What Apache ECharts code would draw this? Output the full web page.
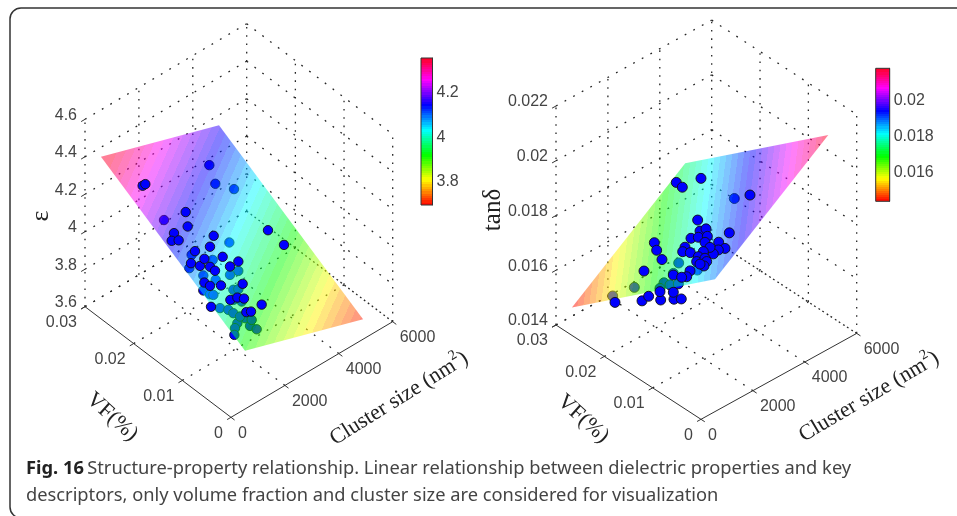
<!DOCTYPE html>
<html><head><meta charset="utf-8"><style>html,body{margin:0;padding:0;background:#fff}#c{width:957px;height:516px}</style></head>
<body><div id="c"></div>
<script src="https://cdn.jsdelivr.net/npm/echarts@6/dist/echarts.min.js"></script>
<script>
// ---------- data ----------
var clusterTicks = [0, 2000, 4000, 6000];
var vfTicks = [0, 0.01, 0.02, 0.03];
var epsTicks = [3.6, 3.8, 4, 4.2, 4.4, 4.6];
var tanTicks = [0.014, 0.016, 0.018, 0.02, 0.022];
var epsBarTicks = [3.8, 4, 4.2];
var tanBarTicks = [0.016, 0.018, 0.02];
var epsRange = [3.697, 4.353];
var tanRange = [0.01438, 0.02183];

// surface corners, order: low-cluster/low-VF, high-cluster/low-VF, high-cluster/high-VF, low-cluster/high-VF
var epsSurfaceCluster = [520, 4900, 4900, 520];
var epsSurfaceVF = [0, 0, 0.0296, 0.0296];
var epsSurfaceZ = [3.911, 3.707, 4.160, 4.364];
var tanSurfaceCluster = [540, 4905, 4905, 540];
var tanSurfaceVF = [0, 0, 0.0296, 0.0296];
var tanSurfaceZ = [0.01883, 0.02182, 0.01739, 0.0144];

var epsCluster = [1784,1516,940,692,916,2106,1739,3917,4074,1176,776,993,1288,1280,1342,1901,1906,2279,1899,1191,744,843,391,1150,1420,1603,2012,1361,1521,1059,1180,
  3768,3525,3980,1102,2609,1160,782,1695,2236,1886,1046,1328,701,823,1645,1815,1415,811,1030,1108,1002,815,641,1354,1332,1462,1238,1522,911,1634];
var epsVF = [.01919,.01730,.01692,.01602,.01583,.01522,.01395,.01409,.01167,.01391,.01252,.01187,.01261,.01140,.01072,.01224,.01076,.01111,.00812,.00865,.00960,.00898,.00627,.00650,.00656,.00621,.00484,.00439,.00431,.02402,.02414,
  .02532,.02274,.02142,.01987,.01479,.01451,.01289,.01315,.01088,.01065,.01148,.01050,.00957,.00887,.00863,.00854,.00735,.00675,.00625,.00566,.00425,.00369,.00286,.00462,.00347,.00282,.00500,.00418,.00867,.00686];
var epsValue = [4.166,4.149,4.170,4.168,4.155,4.090,4.088,3.988,3.944,4.113,4.110,4.090,4.088,4.070,4.057,4.054,4.031,4.019,3.991,4.032,4.067,4.053,4.033,4.001,3.989,3.975,3.935,3.959,3.950,4.273,4.269,
  4.127,4.099,4.058,4.168,4.020,4.083,4.076,4.037,3.977,3.990,4.042,4.014,4.029,4.012,3.971,3.961,3.962,3.981,3.963,3.950,3.933,3.934,3.929,3.923,3.906,3.890,3.934,3.908,4.005,3.944];

var tanCluster = [3893,3672,3862,2919,2395,1706,1984,2014,1786,1770,1742,1544,1890,1599,1227,949,1506,1367,1277,1447,1187,1175,1067,1329,1221,1078,911,971,840,704,804,624,444,598,456,96,189,9,33,193,178,223,183,
  3683,1216,1059,1774,1174,1048,1025,999,1442,1391];
var tanVF = [.02601,.02358,.02074,.00554,.01355,.00330,.01086,.00978,.01166,.01005,.00804,.00746,.01980,.01776,.01466,.01689,.01140,.01113,.00907,.00411,.00141,.00272,.00318,.00527,.00607,.00634,.00579,.00439,.00334,.00316,.00452,.00562,.00535,.00894,.00645,.00900,.01322,.01088,.01797,.00938,.00668,.00679,.00506,
  .01288,.02032,.02396,.01414,.01396,.01204,.01019,.01385,.01346,.00823];
var tanValue = [.01763,.01785,.01840,.02003,.01847,.01954,.01859,.01878,.01834,.01857,.01885,.01880,.01719,.01730,.01751,.01698,.01819,.01813,.01838,.01924,.01946,.01926,.01912,.01898,.01879,.01865,.01862,.01887,.01894,.01887,.01873,.01845,.01836,.01793,.01821,.01758,.01671,.01724,.01619,.01718,.01778,.01749,.01772,
  .01866,.01585,.01520,.01716,.01677,.01698,.01724,.01667,.01703,.01778];

// ---------- helpers ----------
function hsv(t, a) {
  var h = (t % 1) * 6, i = Math.floor(h), f = h - i, q = 1 - f, v = [[1,f,0],[q,1,0],[0,1,f],[0,q,1],[f,0,1],[1,0,q]][i % 6];
  return 'rgba(' + Math.round(v[0]*255) + ',' + Math.round(v[1]*255) + ',' + Math.round(v[2]*255) + ',' + a + ')';
}
function steppedStops(n, a) {
  var s = [];
  for (var i = 0; i < n; i++) {
    var col = hsv((i + 0.5) / n * 0.98, a);
    s.push({offset: i / n, color: col}, {offset: (i + 1) / n, color: col});
  }
  return s;
}
function panelSeries(P) {
  function proj(c, v, z) {
    return [P.ox + c / 6000 * P.cx + v / 0.03 * P.vx,
            P.oy + c / 6000 * P.cy + v / 0.03 * P.vy - (z - P.zMin) / (P.zMax - P.zMin) * P.zh];
  }
  var zLo = P.zMin, zHi = P.zMax, cMax = 6000, vMax = 0.03, segs = [];
  P.clusterTicks.forEach(function (c) {
    if (c > 0 && c < cMax) segs.push(proj(c, 0, zLo).concat(proj(c, vMax, zLo)));
    if (c > 0 && c < cMax) segs.push(proj(c, vMax, zLo).concat(proj(c, vMax, zHi)));
  });
  P.vfTicks.forEach(function (v) {
    if (v > 0 && v < vMax) segs.push(proj(0, v, zLo).concat(proj(cMax, v, zLo)));
    if (v > 0 && v < vMax) segs.push(proj(cMax, v, zLo).concat(proj(cMax, v, zHi)));
  });
  P.zTicks.forEach(function (z) {
    segs.push(proj(0, vMax, z).concat(proj(cMax, vMax, z)));
    segs.push(proj(cMax, vMax, z).concat(proj(cMax, 0, z)));
  });
  // box edges on the floor and the three rear verticals
  segs.push(proj(cMax, 0, zLo).concat(proj(cMax, vMax, zLo)));
  segs.push(proj(0, vMax, zLo).concat(proj(cMax, vMax, zLo)));
  segs.push(proj(0, vMax, zLo).concat(proj(0, vMax, zHi)));
  segs.push(proj(cMax, vMax, zLo).concat(proj(cMax, vMax, zHi)));
  segs.push(proj(cMax, 0, zLo).concat(proj(cMax, 0, zHi)));

  // axis lines + ticks
  var solid = [proj(0, vMax, zLo).concat(proj(0, 0, zLo)), proj(0, 0, zLo).concat(proj(cMax, 0, zLo))];
  var un = function (a, b) { var dx = b[0]-a[0], dy = b[1]-a[1], l = Math.hypot(dx, dy); return [dx/l, dy/l]; };
  var dc = un(proj(0,0,zLo), proj(cMax,0,zLo)), dv = un(proj(0,0,zLo), proj(0,vMax,zLo));
  P.vfTicks.forEach(function (v) { var p = proj(0, v, zLo); solid.push([p[0], p[1], p[0]-dc[0]*4.5, p[1]-dc[1]*4.5]); });
  P.clusterTicks.forEach(function (c) { var p = proj(c, 0, zLo); solid.push([p[0], p[1], p[0]-dv[0]*4.5, p[1]-dv[1]*4.5]); });
  P.zTicks.forEach(function (z) { var p = proj(0, vMax, z); solid.push([p[0], p[1], p[0]-dc[0]*4.5, p[1]-dc[1]*4.5]); });

  // labels
  var tickFont = '16px "Liberation Sans"', labs = [];
  function lab(txt, p, ox, oy, al) { labs.push({t: txt, x: p[0]+ox, y: p[1]+oy, al: al, font: tickFont}); }
  P.zTicks.forEach(function (z) { lab(String(z), proj(0, vMax, z), -8, -4, 'right'); });
  P.vfTicks.forEach(function (v) { lab(String(v), proj(0, v, zLo), -8, 16, 'right'); });
  P.clusterTicks.forEach(function (c) { lab(String(c), proj(c, 0, zLo), 7, 16, 'left'); });

  // surface gradient: z is affine in the projected plane
  var S = P.surface, c = S.cluster, v = S.vf, zz = S.z;
  var pts = [0,1,2,3].map(function (i) { return proj(c[i], v[i], zz[i]); });
  var e1 = [pts[1][0]-pts[0][0], pts[1][1]-pts[0][1]], e2 = [pts[3][0]-pts[0][0], pts[3][1]-pts[0][1]];
  var d1 = zz[1]-zz[0], d2 = zz[3]-zz[0], det = e1[0]*e2[1]-e1[1]*e2[0];
  var g = [(d1*e2[1]-d2*e1[1])/det, (e1[0]*d2-e2[0]*d1)/det], g2 = g[0]*g[0]+g[1]*g[1];
  function along(val) { var k = (val-zz[0])/g2; return [pts[0][0]+g[0]*k, pts[0][1]+g[1]*k]; }
  var g0 = along(P.range[0]), g1 = along(P.range[1]);
  var fill = new echarts.graphic.LinearGradient(g0[0], g0[1], g1[0], g1[1], steppedStops(40, 0.5), true);

  // plane value for ordering points above/below the surface
  function plane(cc, vv) {
    var fc = (cc-c[0])/(c[1]-c[0]), fv = vv/v[2];
    return zz[0] + fc*(zz[1]-zz[0]) + fv*(zz[3]-zz[0]);
  }
  var under = [], over = [];
  P.pc.forEach(function (cc, i) {
    (P.pz[i] < plane(cc, P.pv[i]) ? under : over).push(proj(cc, P.pv[i], P.pz[i]));
  });
  var single = function (fn, z) {
    return {type: 'custom', xAxisIndex: 0, yAxisIndex: 0, silent: true, z: z, animation: false, clip: false,
      data: [[0, 0]], renderItem: fn};
  };
  var toPx = function (api, p) { return api.coord(p); };
  var scat = function (d, z) {
    return {type: 'scatter', xAxisIndex: 0, yAxisIndex: 0, data: d, z: z, silent: true, animation: false,
      symbol: 'circle', symbolSize: P.dot, clip: false,
      itemStyle: {color: '#0000ff', opacity: 1, borderColor: '#111', borderWidth: 0.9}};
  };
  return [
    single(function (p, api) {
      return {type: 'group', children: segs.map(function (s) {
        var a = toPx(api, [s[0], s[1]]), b = toPx(api, [s[2], s[3]]);
        var vertical = Math.abs(a[0]-b[0]) < 0.5;
        return {type: 'line', shape: {x1: a[0], y1: a[1], x2: b[0], y2: b[1]},
          style: {stroke: '#262626', lineWidth: 1.3, lineDash: vertical ? [1.6, 6.7] : [1.8, 8]}};
      })};
    }, 1),
    scat(under, 2),
    single(function (p, api) {
      return {type: 'polygon', shape: {points: pts.map(function (q) { return toPx(api, q); })}, style: {fill: fill}};
    }, 3),
    scat(over, 4),
    single(function (p, api) {
      var kids = solid.map(function (s) {
        var a = toPx(api, [s[0], s[1]]), b = toPx(api, [s[2], s[3]]);
        return {type: 'line', shape: {x1: a[0], y1: a[1], x2: b[0], y2: b[1]}, style: {stroke: '#333', lineWidth: 1}};
      });
      labs.forEach(function (l) {
        var q = toPx(api, [l.x, l.y]);
        kids.push({type: 'text', x: q[0], y: q[1], style: {text: l.t, font: l.font, fill: '#444', align: l.al, verticalAlign: 'middle'}});
      });
      P.titles.forEach(function (tt) {
        var q = toPx(api, [tt.x, tt.y]);
        kids.push({type: 'text', x: q[0], y: q[1], rotation: tt.rot * Math.PI / 180,
          style: {text: tt.text, rich: TITLE_RICH, font: tt.font || '22px "Liberation Serif"', fill: '#222', align: 'center', verticalAlign: 'middle'}});
      });
      return {type: 'group', children: kids};
    }, 5)
  ];
}
var TITLE_RICH = {
  a: {font: '22px "Liberation Serif"', fill: '#222', lineHeight: 26, verticalAlign: 'bottom'},
  s: {font: '14px "Liberation Serif"', fill: '#222', lineHeight: 26, verticalAlign: 'top', padding: [0, 0, 8, 0]}
};
var clusterTitle = '{a|Cluster size (nm}{s|2}{a|)}';

var leftPanel = {
  ox: 231, oy: 417.3, cx: 161.7, cy: -95.6, vx: -146, vy: -110.6, zh: 187.4, zMin: 3.6, zMax: 4.6, dot: 9.4,
  clusterTicks: clusterTicks, vfTicks: vfTicks, zTicks: epsTicks, range: epsRange,
  surface: {cluster: epsSurfaceCluster, vf: epsSurfaceVF, z: epsSurfaceZ},
  pc: epsCluster, pv: epsVF, pz: epsValue,
  titles: [
    {text: clusterTitle, x: 398, y: 397, rot: 32},
    {text: 'VF(%)', x: 112, y: 417, rot: -42},
    {text: '\u03b5', x: 41, y: 216, rot: 90, font: '26px "Liberation Serif"'}
  ]
};
var rightPanel = {
  ox: 701, oy: 419.3, cx: 155.7, cy: -85.9, vx: -145, vy: -94.3, zh: 219, zMin: 0.014, zMax: 0.022, dot: 10,
  clusterTicks: clusterTicks, vfTicks: vfTicks, zTicks: tanTicks, range: tanRange,
  surface: {cluster: tanSurfaceCluster, vf: tanSurfaceVF, z: tanSurfaceZ},
  pc: tanCluster, pv: tanVF, pz: tanValue,
  titles: [
    {text: clusterTitle, x: 868, y: 395, rot: 30.5},
    {text: 'VF(%)', x: 583, y: 419, rot: -42},
    {text: 'tan\u03b4', x: 493, y: 210, rot: 90, font: '25px "Liberation Serif"'}
  ]
};

function barSeries(idx) {
  return {type: 'custom', xAxisIndex: idx, yAxisIndex: idx, silent: true, animation: false, z: 2, data: [[0, 0]],
    renderItem: function (p, api) {
      var r = p.coordSys;
      return {type: 'rect', shape: {x: r.x, y: r.y, width: r.width, height: r.height},
        style: {fill: new echarts.graphic.LinearGradient(0, 1, 0, 0, steppedStops(64, 1))}};
    }};
}
function barAxis(idx, range, ticks) {
  return {type: 'value', gridIndex: idx, position: 'right', min: range[0], max: range[1], splitLine: {show: false},
    axisLine: {show: true, onZero: false, lineStyle: {color: '#333', width: 1}},
    axisTick: {show: true, inside: true, length: 2.5, customValues: ticks, lineStyle: {color: '#222'}},
    axisLabel: {show: true, customValues: ticks, margin: 4, color: '#444', fontFamily: 'Liberation Sans', fontSize: 16,
      formatter: function (v) { return String(v); }}};
}

var chart = echarts.init(document.getElementById('c'), null, {renderer: 'canvas'});
chart.setOption({
  animation: false,
  backgroundColor: '#fff',
  grid: [
    {left: 0, top: 0, width: 957, height: 516},
    {left: 421, top: 58, width: 11.5, height: 147, show: true, borderColor: '#333', borderWidth: 1, z: 3},
    {left: 875.7, top: 68.3, width: 14, height: 133, show: true, borderColor: '#333', borderWidth: 1, z: 3}
  ],
  xAxis: [
    {type: 'value', gridIndex: 0, min: 0, max: 957, show: false},
    {type: 'value', gridIndex: 1, min: 0, max: 1, show: false},
    {type: 'value', gridIndex: 2, min: 0, max: 1, show: false}
  ],
  yAxis: [
    {type: 'value', gridIndex: 0, min: 0, max: 516, inverse: true, show: false},
    barAxis(1, epsRange, epsBarTicks),
    barAxis(2, tanRange, tanBarTicks)
  ],
  graphic: [
    {type: 'rect', silent: true, z: -1, shape: {x: 10, y: 8, width: 1000, height: 510, r: 11},
      style: {fill: 'none', stroke: '#333', lineWidth: 1.5}},
    {type: 'text', silent: true, x: 26, y: 455, style: {
      text: '{b|Fig. 16} {n|Structure-property relationship. Linear relationship between dielectric properties and key}\n{n|descriptors, only volume fraction and cluster size are considered for visualization}',
      rich: {
        b: {font: 'bold 18.3px "Noto Sans"', fill: '#222', lineHeight: 27},
        n: {font: '18.3px "Noto Sans"', fill: '#444', lineHeight: 27}
      }, align: 'left', verticalAlign: 'top'}}
  ],
  series: panelSeries(leftPanel).concat(panelSeries(rightPanel), [barSeries(1), barSeries(2)])
});
</script></body></html>
